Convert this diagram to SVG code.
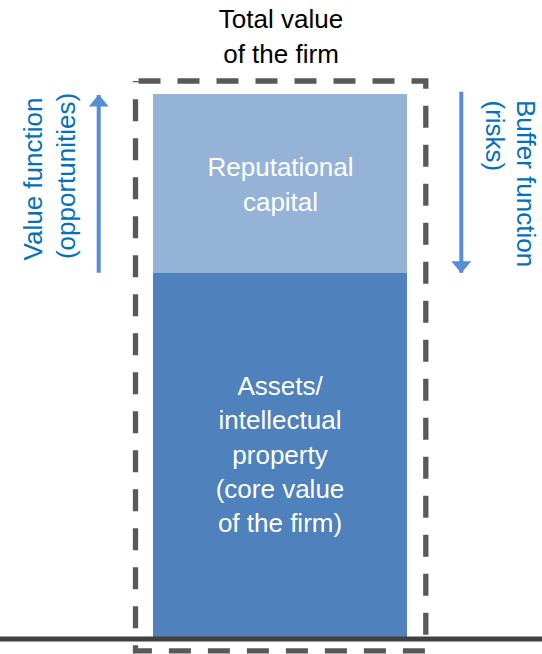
<svg xmlns="http://www.w3.org/2000/svg" width="542" height="654" viewBox="0 0 542 654">
<style>
text{font-family:"Liberation Sans",Arial,sans-serif;font-size:26px}
.w{fill:#ffffff;text-anchor:middle}
.k{fill:#000000;text-anchor:middle}
.b{fill:#0070C0}
.arr{stroke:#558ED5;stroke-width:4;fill:none}
</style>
<defs>
<marker id="ah" viewBox="0 0 12 20" refX="11.5" refY="10" markerWidth="12" markerHeight="20" markerUnits="userSpaceOnUse" orient="auto">
<path d="M0,0 L12,10 L0,20 Z" fill="#558ED5"/>
</marker>
</defs>
<rect width="542" height="654" fill="#ffffff"/>
<g id="reputational-capital">
<rect x="153" y="94" width="254" height="179" fill="#95B3D7"/>
<text class="w" x="280.5" y="176">Reputational</text>
<text class="w" x="280.5" y="210.5">capital</text>
</g>
<g id="assets">
<rect x="153" y="273" width="254" height="364" fill="#4F81BD"/>
<text class="w" x="280" y="395">Assets/</text>
<text class="w" x="280" y="429">intellectual</text>
<text class="w" x="280" y="463.5">property</text>
<text class="w" x="280" y="498">(core value</text>
<text class="w" x="280" y="532">of the firm)</text>
</g>
<g id="ground">
<line x1="0" y1="639" x2="542" y2="639" stroke="#404040" stroke-width="5"/>
</g>
<g id="total-value">
<rect x="135.5" y="81" width="290.3" height="569.8" fill="none" stroke="#595959" stroke-width="5.3" stroke-dasharray="22 17" stroke-dashoffset="-3"/>
<text class="k" x="281" y="28.3">Total value</text>
<text class="k" x="281" y="63.3">of the firm</text>
</g>
<g id="value-function">
<text class="b" transform="translate(41.5,179) rotate(-90)" text-anchor="middle">Value function</text>
<text class="b" transform="translate(75,176) rotate(-90)" text-anchor="middle">(opportunities)</text>
</g>
<g id="buffer-function">
<text class="b" transform="translate(517,100) rotate(90)">Buffer function</text>
<text class="b" transform="translate(485.5,100.5) rotate(90)">(risks)</text>
</g>
<g id="connectors">
<line class="arr" x1="98.7" y1="272.7" x2="98.7" y2="95" marker-end="url(#ah)"/>
<line class="arr" x1="461.3" y1="91.7" x2="461.3" y2="272.7" marker-end="url(#ah)"/>
</g>
</svg>
